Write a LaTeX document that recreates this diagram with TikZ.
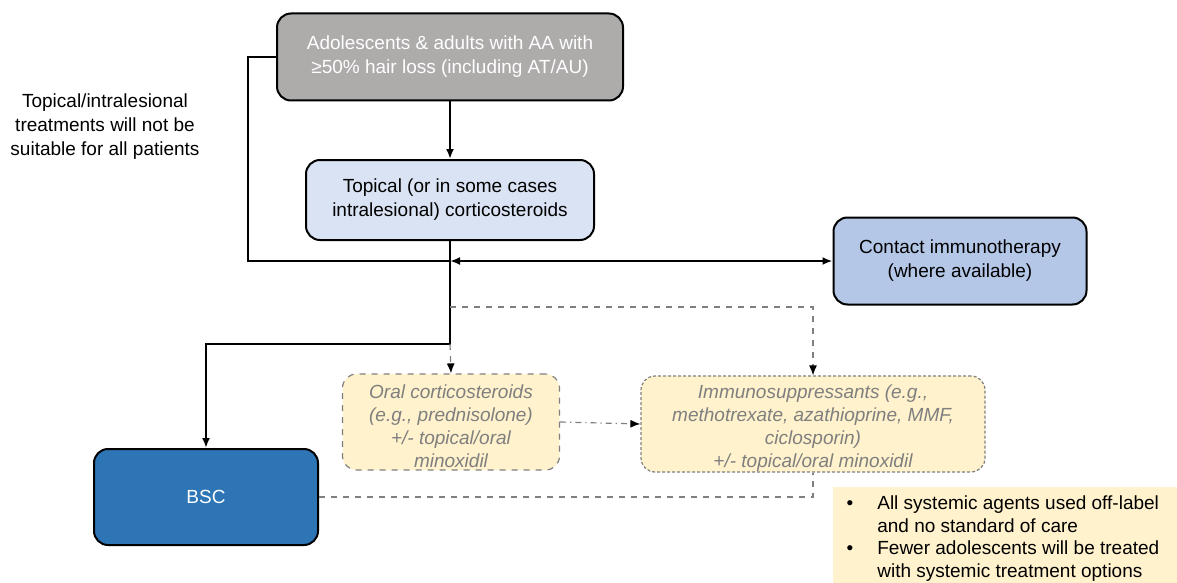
\documentclass[tikz,border=0pt]{standalone}
\usepackage{fontspec}
\setmainfont{Liberation Sans}
\usetikzlibrary{arrows.meta}

\definecolor{stepgrey}{HTML}{AEABAB}
\definecolor{paleblue}{HTML}{DAE3F3}
\definecolor{midblue}{HTML}{B4C7E7}
\definecolor{darkblue}{HTML}{2E75B6}
\definecolor{paleyellow}{HTML}{FFF2CC}
\definecolor{offgrey}{HTML}{7F7F7F}

\begin{document}
\begin{tikzpicture}[x=0.5pt,y=-0.5pt,>={Latex[length=5pt,width=4pt]},
  font=\fontsize{9.5}{12}\selectfont,
  box/.style={draw,line width=1pt,rounded corners=7pt,align=center,inner sep=0pt},
  offbox/.style={draw=offgrey,line width=0.6pt,fill=paleyellow,rounded corners=7pt,
    align=center,inner sep=0pt,text=offgrey,font=\fontsize{9.5}{11.6}\selectfont\itshape},
  link/.style={line width=1pt},
  dlink/.style={draw=offgrey,line width=0.6pt,dashed},
  darrow/.style={-{Latex[black,length=5pt,width=4pt]}}]
\useasboundingbox (0,0) rectangle (1177,583);

\node (adults) at (450,57) [box,fill=stepgrey,text=white,minimum width=173pt,minimum height=43.5pt]
  {Adolescents \& adults with AA with\\ ≥50\% hair loss (including AT/AU)};
\node (topical) at (450,200) [box,fill=paleblue,minimum width=144pt,minimum height=40pt]
  {Topical (or in some cases\\ intralesional) corticosteroids};
\node (contact) at (960,261) [box,fill=midblue,minimum width=126.5pt,minimum height=43.5pt]
  {Contact immunotherapy\\ (where available)};
\node (bsc) at (206,497) [box,fill=darkblue,text=white,minimum width=112pt,minimum height=48pt] {BSC};

\node (oral) at (451,422) [offbox,dashed,minimum width=108.5pt,minimum height=48pt]
  {\rule{0pt}{11pt}Oral corticosteroids\\ (e.g., prednisolone)\\ +/- topical/oral\\ minoxidil};
\node (immuno) at (813,424) [offbox,dash pattern=on 1.5pt off 1pt,minimum width=172pt,minimum height=48pt]
  {\rule{0pt}{11pt}Immunosuppressants (e.g.,\\ methotrexate, azathioprine, MMF,\\ ciclosporin)\\ +/- topical/oral minoxidil};

\node (caveat) at (105,127) [align=center] {Topical/intralesional\\ treatments will not be\\ suitable for all patients};

% note box, text sits low in the box
\fill[paleyellow] (833,487) rectangle (1177,583);
\node (notes) at (1003,539) [inner sep=0pt,font=\fontsize{9.5}{11.2}\selectfont]
  {\begin{tabular}{@{}l@{\hspace{12pt}}l@{}}
   \textbullet & All systemic agents used off-label\\
               & and no standard of care\\
   \textbullet & Fewer adolescents will be treated\\
               & with systemic treatment options
   \end{tabular}};

\coordinate (split) at (450,261);
\coordinate (lside) at (248,261);
\coordinate (elbow) at (450,344);
\coordinate (fork)  at (450,307);

\draw[link,->] (adults) -- (topical);
\draw[link] (adults.west) -| (lside) -- (split);
\draw[link,<->] (split) -- (contact.west);
\draw[link,->] (topical.south) -- (elbow) -| (bsc.north);

\draw[dlink,darrow] (fork) -| (immuno.north);
\draw[dlink,darrow] (elbow) -- (oral.north);
\draw[dlink,dash dot,darrow] (oral.east) -- (immuno.west);
\draw[dlink] (bsc.east) -| (immuno.south);

\end{tikzpicture}
\end{document}
